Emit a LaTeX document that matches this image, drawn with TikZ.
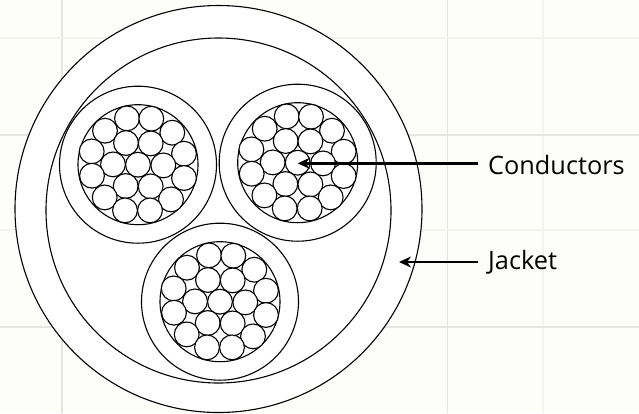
\documentclass[tikz,border=0pt]{standalone}
\usepackage{fontspec}
\setmainfont{Open Sans}
\usetikzlibrary{arrows.meta}
\definecolor{paper}{HTML}{FDFEFA}
\definecolor{gridmajor}{HTML}{E6E6E0}
\definecolor{gridline}{HTML}{F4F4EF}
\tikzset{
  x=1bp,y=-1bp,
  ring/.style={circle,draw=black,line width=1.1bp,fill=white,inner sep=0pt,outer sep=0pt,minimum size=#1 bp},
  strand/.style={circle,draw=black,line width=1.1bp,fill=white,inner sep=0pt,outer sep=0pt,minimum size=24.8bp},
  pointer/.style={draw=black,line width=#1,-{Stealth[length=12bp,width=11bp]}},
  lbl/.style={font=\fontsize{25.3bp}{28bp}\selectfont,anchor=base west,inner sep=0pt,text=black}
}
\newcommand{\bundle}[3]{%
  \node[ring=157] (#1o) at (#2,#3) {};
  \node[ring=120] (#1i) at (#2,#3) {};
  \foreach \n/\dx/\dy in {1/-11/-46.3,2/13.3/-46,3/-33/-34,4/34.3/-32,5/-12/-21.7,6/12.7/-21.3,7/-46.3/-13.3,8/46/-11,9/-25/-0.3,10/0/0,11/25.3/0.7,12/-46/11,13/46/13.3,14/-12.3/21.3,15/12.7/21.7,16/-33.3/32.7,17/33/34.7,18/-13/45.7,19/12/45.7}
    \node[strand] (#1s\n) at (#2+\dx,#3+\dy) {};
}
\begin{document}
\begin{tikzpicture}
\useasboundingbox (0,0) rectangle (639,413);
\fill[paper] (0,0) rectangle (639,413);
\foreach \gx in {62,447.7} \draw[gridmajor,line width=1.2bp] (\gx,0) -- (\gx,413);
\draw[gridline,line width=1.2bp] (543,0) -- (543,413);
\foreach \gy in {135,327} \draw[gridmajor,line width=1.2bp] (0,\gy) -- (639,\gy);
\foreach \gy in {38,230} \draw[gridline,line width=1.2bp] (0,\gy) -- (639,\gy);
\node[ring=407] (outer) at (218.5,209) {};
\node[ring=345] (jacket) at (218.5,210.5) {};
\bundle{a}{138}{164.7}
\bundle{b}{297.7}{162.7}
\bundle{c}{220}{301.7}
\node[lbl] (cond) at (488,174) {Conductors};
\node[lbl] (jack) at (488,269) {Jacket};
\coordinate (condend) at (478,163.3);
\coordinate (jackend) at (478,262);
\coordinate (jackpt) at (399,262);
\draw[pointer=2.5bp] (condend) -- (condend -| bs10.center);
\draw[pointer=2bp] (jackend) -- (jackpt);
\end{tikzpicture}
\end{document}
